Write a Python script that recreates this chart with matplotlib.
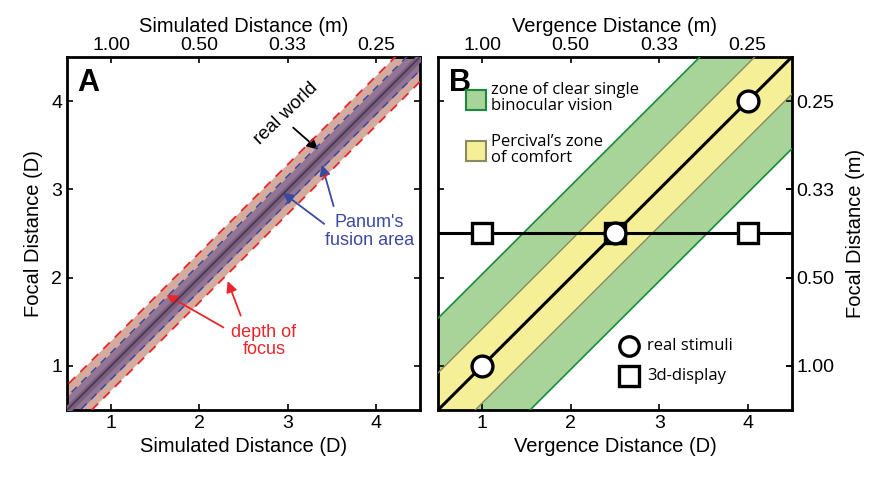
import matplotlib
matplotlib.use("Agg")
import matplotlib.pyplot as plt
import numpy as np
from matplotlib.patches import Rectangle

plt.rcParams['font.family'] = ['Liberation Sans', 'DejaVu Sans']

# ---- data ----
diopter_ticks = [1, 2, 3, 4]
meter_labels = ["1.00", "0.50", "0.33", "0.25"]
axis_lim = [0.5, 4.5]
line_x = [0.0, 5.0]
depth_of_focus = 0.28      # D, half-width
panum_area = 0.15          # D, half-width
panum_core = 0.06
zcsbv = 1.04               # zone of clear single binocular vision half-width
percival = 0.42            # Percival's zone half-width
real_stimuli = [1.0, 2.5, 4.0]
display_focal = 2.5
display_verg = [1.0, 2.5, 4.0]

fig = plt.figure(figsize=(8.78, 4.78), dpi=100)
axA = fig.add_axes([0.0763, 0.1423, 0.402, 0.7385])
axB = fig.add_axes([0.4989, 0.1423, 0.403, 0.7385])

x = np.array(line_x)
LBL = 14.5
TCK = 14
ARW = 16

def style_axes(ax):
    ax.set_xlim(axis_lim)
    ax.set_ylim(axis_lim)
    ax.set_xticks(diopter_ticks)
    ax.set_yticks(diopter_ticks)
    ax.tick_params(direction='in', length=4, width=1.2, labelsize=TCK, top=False, right=True)
    for s in ax.spines.values():
        s.set_linewidth(2)
    sec = ax.secondary_xaxis('top')
    sec.set_xticks(diopter_ticks, labels=meter_labels)
    sec.tick_params(direction='in', length=4, width=1.2, labelsize=TCK, pad=2)
    return sec

# ---- Panel A ----
secA = style_axes(axA)
tan = '#d5ab9e'
purple = '#937594'
core = '#7a6080'
axA.fill_between(x, x - depth_of_focus, x + depth_of_focus, color=tan, lw=0, zorder=1)
axA.fill_between(x, x - panum_area, x + panum_area, color=purple, lw=0, zorder=2)
axA.fill_between(x, x - panum_core, x + panum_core, color=core, lw=0, zorder=3)
axA.plot(x, x, color='#4a3450', lw=1.2, zorder=4)
for s in (-1, 1):
    axA.plot(x, x + s * depth_of_focus, color='#e8262b', lw=1.3, ls=(0, (5, 4)), zorder=5)
    axA.plot(x, x + s * panum_area, color='#3b4aa0', lw=1.1, ls=(0, (5, 4)), zorder=5)

axA.set_xlabel('Simulated Distance (D)', fontsize=LBL, labelpad=4)
axA.set_ylabel('Focal Distance (D)', fontsize=LBL, labelpad=6)
secA.set_xlabel('Simulated Distance (m)', fontsize=LBL, labelpad=4)
axA.text(0.03, 0.97, 'A', transform=axA.transAxes, fontsize=22, fontweight='bold',
         va='top', ha='left')

axA.text(2.98, 3.86, 'real world', rotation=44, ha='center', va='center', fontsize=13.5)
axA.annotate('', xy=(3.37, 3.43), xytext=(3.04, 3.72),
             arrowprops=dict(arrowstyle='-|>', color='black', lw=1.3, mutation_scale=ARW))

blue = '#3b4aa0'
axA.text(3.93, 2.52, "Panum's\nfusion area", color=blue, ha='center', va='center', fontsize=13,
         linespacing=1.05)
axA.annotate('', xy=(2.92, 2.98), xytext=(3.44, 2.59),
             arrowprops=dict(arrowstyle='-|>', color=blue, lw=1.3, mutation_scale=ARW))
axA.annotate('', xy=(3.38, 3.31), xytext=(3.53, 2.78),
             arrowprops=dict(arrowstyle='-|>', color=blue, lw=1.3, mutation_scale=ARW))

red = '#e8262b'
axA.text(2.73, 1.28, "depth of\nfocus", color=red, ha='center', va='center', fontsize=13,
         linespacing=1.05)
axA.annotate('', xy=(1.60, 1.82), xytext=(2.30, 1.42),
             arrowprops=dict(arrowstyle='-|>', color=red, lw=1.3, mutation_scale=ARW))
axA.annotate('', xy=(2.31, 1.99), xytext=(2.48, 1.54),
             arrowprops=dict(arrowstyle='-|>', color=red, lw=1.3, mutation_scale=ARW))

# ---- Panel B ----
secB = style_axes(axB)
axB.tick_params(labelleft=False)
green_fill = '#a8d49a'
green_edge = '#1a8a3c'
yellow_fill = '#f5f098'
yellow_edge = '#8a8a60'
axB.fill_between(x, x - zcsbv, x + zcsbv, color=green_fill, lw=0, zorder=1)
axB.fill_between(x, x - percival, x + percival, color=yellow_fill, lw=0, zorder=2)
for s in (-1, 1):
    axB.plot(x, x + s * zcsbv, color=green_edge, lw=1.2, zorder=3)
    axB.plot(x, x + s * percival, color=yellow_edge, lw=1.0, zorder=3)
axB.plot(x, x, color='black', lw=2.2, zorder=4)
axB.axhline(display_focal, color='black', lw=2.2, zorder=4)
axB.plot(display_verg, [display_focal] * len(display_verg), 's', ms=15, mfc='white',
         mec='black', mew=2.4, zorder=5, clip_on=False)
axB.plot(real_stimuli, real_stimuli, 'o', ms=15, mfc='white', mec='black', mew=2.4, zorder=6,
         clip_on=False)

secBy = axB.secondary_yaxis('right')
secBy.set_yticks(diopter_ticks, labels=meter_labels)
secBy.tick_params(direction='in', length=4, width=1.2, labelsize=TCK)
secBy.set_ylabel('Focal Distance (m)', fontsize=LBL, labelpad=8)
axB.set_xlabel('Vergence Distance (D)', fontsize=LBL, labelpad=4)
secB.set_xlabel('Vergence Distance (m)', fontsize=LBL, labelpad=4)
axB.text(0.03, 0.97, 'B', transform=axB.transAxes, fontsize=22, fontweight='bold',
         va='top', ha='left')

leg_font = ['Open Sans', 'DejaVu Sans']
axB.add_patch(Rectangle((0.82, 3.90), 0.22, 0.23, facecolor=green_fill, edgecolor=green_edge,
                        lw=1.5, zorder=7))
axB.text(1.10, 4.03, 'zone of clear single\nbinocular vision', fontsize=12, va='center',
         ha='left', family=leg_font, linespacing=1.0, zorder=7)
axB.add_patch(Rectangle((0.82, 3.32), 0.22, 0.23, facecolor=yellow_fill, edgecolor=yellow_edge,
                        lw=1.5, zorder=7))
axB.text(1.10, 3.45, "Percival\u2019s zone\nof comfort", fontsize=12, va='center',
         ha='left', family=leg_font, linespacing=1.0, zorder=7)

axB.plot([2.66], [1.22], 'o', ms=14, mfc='white', mec='black', mew=2.4, zorder=7)
axB.text(2.86, 1.22, 'real stimuli', fontsize=12, va='center', ha='left', family=leg_font)
axB.plot([2.66], [0.88], 's', ms=14, mfc='white', mec='black', mew=2.4, zorder=7)
axB.text(2.86, 0.88, '3d-display', fontsize=12, va='center', ha='left', family=leg_font)

fig.savefig('out.png', dpi=100)
